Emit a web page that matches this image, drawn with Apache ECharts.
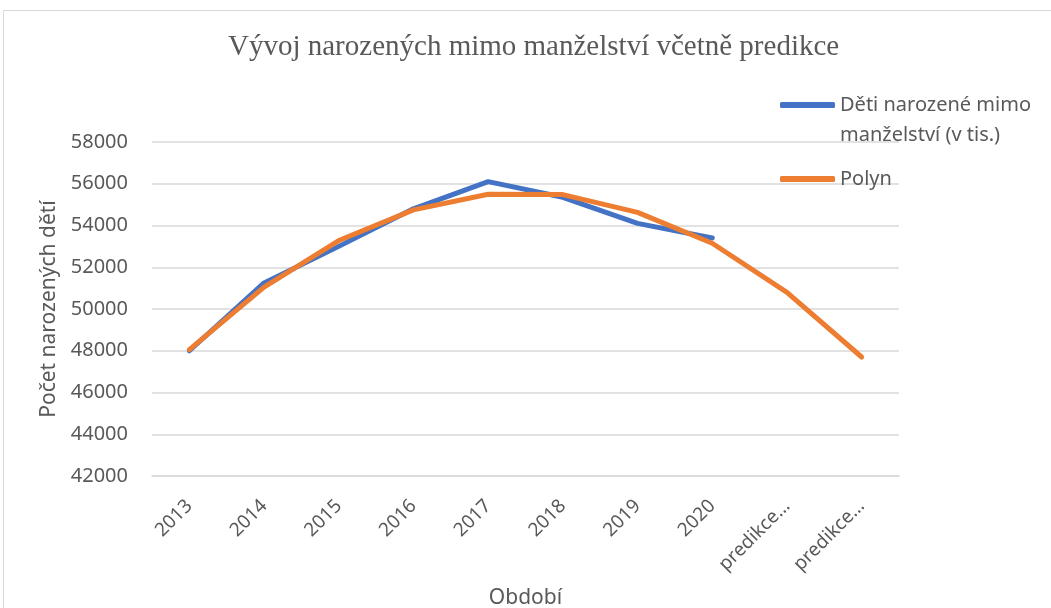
<!DOCTYPE html>
<html>
<head>
<meta charset="utf-8">
<script src="https://cdn.jsdelivr.net/npm/echarts@6/dist/echarts.min.js"></script>
<style>
    html, body { margin: 0; padding: 0; background: #fff; overflow: hidden; }
    .frame { position: absolute; left: 3px; top: 10px; width: 1100px; height: 700px; border: 1px solid #d9d9d9; }
    #chart { position: absolute; left: 0; top: 0; width: 1051px; height: 608px; }
</style>
</head>
<body>
<div class="frame"></div>
<div id="chart"></div>
<script>
// categories and values
const periods = ['2013', '2014', '2015', '2016', '2017', '2018', '2019', '2020', 'predikce…', 'predikce…'];
const births = [48000, 51250, 53000, 54800, 56100, 55350, 54100, 53400, null, null];
const polyn = [48050, 51050, 53280, 54750, 55500, 55480, 54630, 53150, 50800, 47700];
const seriesNames = ['Děti narozené mimo\nmanželství (v tis.)', 'Polyn'];

const textColor = '#595959';
const font = '"Noto Sans", sans-serif';

const legendText = {
    fontFamily: font,
    fontSize: 20,
    color: textColor,
    lineHeight: 30
};

const myChart = echarts.init(document.getElementById('chart'));
myChart.setOption({
    animation: false,
    color: ['#4472C4', '#ED7D31'],
    title: {
        text: 'Vývoj narozených mimo manželství včetně predikce',
        left: 223,
        top: 28,
        textStyle: {
            fontFamily: '"Liberation Serif", "Times New Roman", serif',
            fontWeight: 'normal',
            fontSize: 29,
            color: textColor
        }
    },
    // two legends; the empty first line keeps the icon level with the first text line
    legend: [
        {
            orient: 'vertical',
            left: 775,
            top: 55,
            itemWidth: 55,
            itemHeight: 6,
            icon: 'roundRect',
            formatter: name => ' \n' + name,
            textStyle: legendText,
            data: [seriesNames[0]]
        },
        {
            orient: 'vertical',
            left: 775,
            top: 159,
            itemWidth: 55,
            itemHeight: 6,
            icon: 'roundRect',
            textStyle: legendText,
            data: [seriesNames[1]]
        }
    ],
    grid: {
        left: 152,
        right: 152,
        top: 142,
        bottom: 132,
        outerBoundsMode: 'none'
    },
    xAxis: {
        type: 'category',
        data: periods,
        boundaryGap: true,
        name: 'Období',
        nameLocation: 'middle',
        nameGap: 112,
        nameTextStyle: { fontFamily: font, fontSize: 21, color: textColor },
        axisLine: { lineStyle: { color: '#d9d9d9', width: 1.5 } },
        axisTick: { show: false },
        axisLabel: {
            rotate: 45,
            margin: 27,
            interval: 0,
            fontFamily: font,
            fontSize: 19,
            color: textColor
        }
    },
    yAxis: {
        type: 'value',
        min: 42000,
        max: 58000,
        interval: 2000,
        name: 'Počet narozených dětí',
        nameLocation: 'middle',
        nameGap: 92,
        nameTextStyle: { fontFamily: font, fontSize: 21, color: textColor },
        axisLine: { show: false },
        axisTick: { show: false },
        axisLabel: {
            margin: 24,
            fontFamily: font,
            fontSize: 20,
            color: textColor,
            formatter: value => String(value)
        },
        splitLine: { lineStyle: { color: '#d9d9d9', width: 1.5 } }
    },
    series: [
        {
            name: seriesNames[0],
            type: 'line',
            data: births,
            showSymbol: false,
            connectNulls: false,
            lineStyle: { width: 5, cap: 'round', join: 'round' }
        },
        {
            name: seriesNames[1],
            type: 'line',
            data: polyn,
            showSymbol: false,
            lineStyle: { width: 5, cap: 'round', join: 'round' }
        }
    ]
});

window.addEventListener('resize', () => {
    myChart.resize();
}, false);
</script>
</body>
</html>
